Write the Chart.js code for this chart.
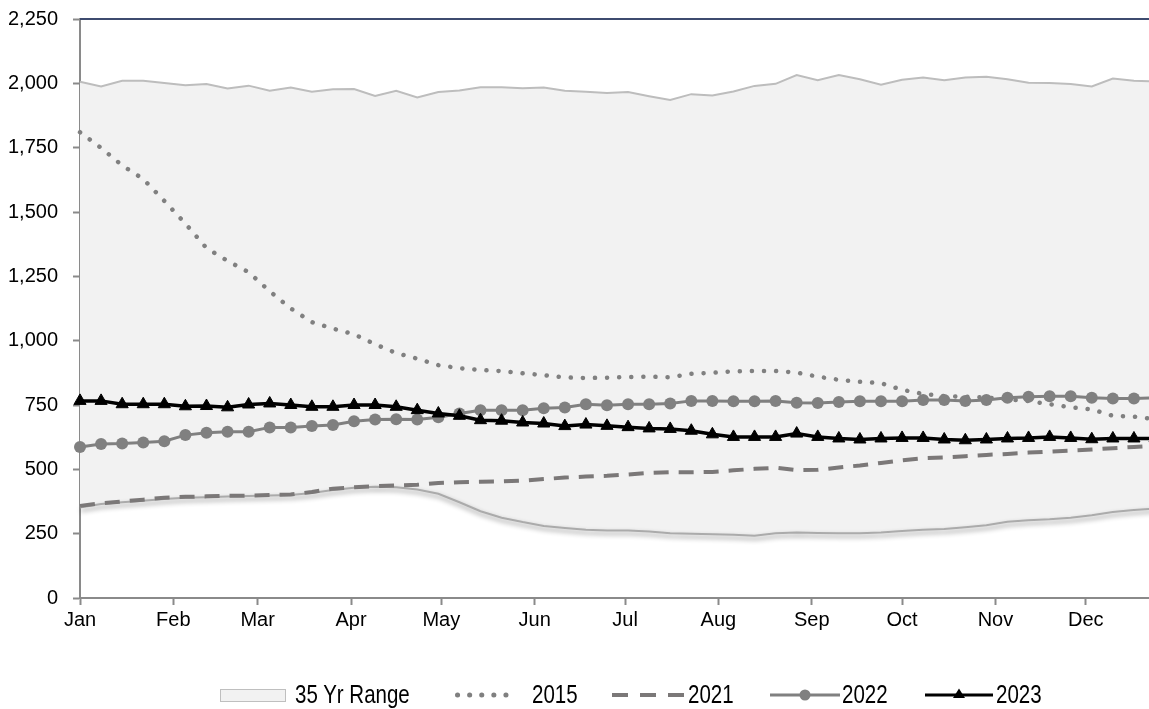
<!DOCTYPE html>
<html>
<head>
<meta charset="utf-8">
<title>Weekly levels vs 35 year range</title>
<script src="https://cdn.jsdelivr.net/npm/chart.js@4.4.0/dist/chart.umd.min.js"></script>
<style>
  html, body { margin: 0; padding: 0; background: #ffffff; }
  #wrap { position: relative; width: 1149px; height: 709px; overflow: hidden; }
  #chart { position: absolute; left: 0; top: 0; }
  .lg-text {
    position: absolute; top: 679px; height: 30px; line-height: 30px;
    font-family: 'Liberation Sans', Arial, sans-serif;
    font-size: 25px; color: #000; white-space: nowrap;
    transform: scaleX(0.82); transform-origin: left center;
  }
  .lg-swatch { position: absolute; top: 684px; }
  .lg-box { position: absolute; top: 689px; width: 64px; height: 11px; background: #F2F2F2; border: 1px solid #BFBFBF; }
</style>
</head>
<body>
<div id="wrap">
  <canvas id="chart" width="1149" height="709"></canvas>
  <div id="legend"></div>
</div>
<script>
// Month axis: labels and the day of year each month starts on
const monthLabels = ['Jan', 'Feb', 'Mar', 'Apr', 'May', 'Jun', 'Jul', 'Aug', 'Sep', 'Oct', 'Nov', 'Dec'];
const monthStartDays = [0, 31, 59, 90, 120, 151, 181, 212, 243, 273, 304, 334];

// Weekly observations, as day of year
const weekDays = [0, 7, 14, 21, 28, 35, 42, 49, 56, 63, 70, 77, 84, 91, 98, 105, 112, 119, 126,
  133, 140, 147, 154, 161, 168, 175, 182, 189, 196, 203, 210, 217, 224, 231, 238, 245, 252,
  259, 266, 273, 280, 287, 294, 301, 308, 315, 322, 329, 336, 343, 350, 357];

// Y axis ticks
const yTicks = [0, 250, 500, 750, 1000, 1250, 1500, 1750, 2000, 2250];

// Series names as shown in the legend
const seriesNames = ['35 Yr Range', '2015', '2021', '2022', '2023'];

// 35 year range: weekly maximum and minimum
const range35High = [2006, 1988, 2010, 2010, 2001, 1993, 1997, 1980, 1991, 1971,
  1984, 1967, 1977, 1978, 1951, 1971, 1945, 1966, 1972, 1985,
  1985, 1981, 1984, 1971, 1967, 1962, 1966, 1950, 1935, 1958,
  1953, 1968, 1990, 1998, 2032, 2012, 2032, 2016, 1995, 2014,
  2023, 2012, 2023, 2026, 2016, 2002, 2001, 1997, 1988, 2019,
  2010, 2008];
const range35Low = [352, 365, 372, 378, 385, 390, 392, 394, 396, 398,
  400, 408, 420, 428, 432, 430, 422, 405, 372, 337,
  312, 295, 280, 272, 265, 262, 262, 258, 252, 250,
  248, 246, 242, 252, 255, 253, 252, 252, 255, 260,
  265, 268, 275, 283, 296, 302, 306, 312, 322, 334,
  342, 348];

// Individual years
const y2015 = [1810, 1749, 1681, 1628, 1543, 1455, 1360, 1310, 1266, 1192,
  1125, 1072, 1047, 1025, 986, 952, 930, 905, 893, 886,
  882, 873, 866, 857, 855, 856, 859, 860, 858, 871,
  875, 881, 882, 882, 876, 860, 848, 840, 835, 809,
  793, 785, 782, 779, 772, 765, 753, 741, 733, 708,
  705, 695];
const y2021 = [358, 368, 375, 382, 390, 393, 395, 397, 398, 400,
  402, 412, 425, 430, 435, 437, 440, 447, 450, 452,
  453, 456, 462, 468, 472, 475, 480, 486, 489, 489,
  490, 496, 502, 506, 497, 498, 507, 515, 525, 535,
  543, 546, 551, 556, 560, 565, 569, 573, 577, 582,
  587, 592];
const y2022 = [587, 598, 600, 604, 609, 633, 642, 646, 646, 663,
  663, 668, 672, 687, 694, 695, 694, 702, 717, 730,
  730, 730, 737, 740, 753, 749, 753, 753, 756, 766,
  766, 765, 765, 766, 759, 758, 762, 765, 765, 765,
  769, 769, 766, 769, 778, 782, 784, 784, 778, 775,
  775, 778];
const y2023 = [766, 766, 753, 753, 753, 745, 746, 741, 752, 756,
  750, 743, 743, 750, 750, 743, 730, 717, 708, 691,
  689, 682, 678, 668, 674, 669, 664, 659, 657, 650,
  636, 626, 626, 626, 639, 626, 620, 616, 620, 622,
  622, 616, 613, 616, 620, 622, 626, 622, 617, 620,
  620, 620];

const toPoints = values => values.map((v, i) => ({ x: weekDays[i], y: v }));

const tickFont = { family: "'Liberation Sans', Arial, sans-serif", size: 20 };
const axisGray = '#8a8a8a';
const clipRightOnly = { left: false, top: false, right: 0, bottom: false };

// Soft drop shadow under the lower edge of the range band
const bandShadow = {
  id: 'bandShadow',
  beforeDatasetDraw(chart, args) {
    if (chart.data.datasets[args.index].shadow) {
      const c = chart.ctx;
      c.save();
      c.shadowColor = 'rgba(0,0,0,0.45)';
      c.shadowBlur = 5;
      c.shadowOffsetX = 1;
      c.shadowOffsetY = 3;
    }
  },
  afterDatasetDraw(chart, args) {
    if (chart.data.datasets[args.index].shadow) chart.ctx.restore();
  }
};

// Dark frame line along the top of the plot area
const topFrame = {
  id: 'topFrame',
  afterDraw(chart) {
    const { ctx, chartArea: a } = chart;
    ctx.save();
    ctx.strokeStyle = '#3d4b6f';
    ctx.lineWidth = 2;
    ctx.beginPath();
    ctx.moveTo(a.left, a.top);
    ctx.lineTo(a.right, a.top);
    ctx.stroke();
    ctx.restore();
  }
};

new Chart(document.getElementById('chart'), {
  type: 'line',
  data: {
    datasets: [
      {
        label: seriesNames[4], data: toPoints(y2023),
        borderColor: '#000000', backgroundColor: '#000000', borderWidth: 3.5,
        pointStyle: 'triangle', pointRadius: 7, pointBorderWidth: 1,
        pointBackgroundColor: '#000000', pointBorderColor: '#000000',
        fill: false, tension: 0, clip: clipRightOnly
      },
      {
        label: seriesNames[3], data: toPoints(y2022),
        borderColor: '#808080', backgroundColor: '#808080', borderWidth: 3,
        pointStyle: 'circle', pointRadius: 6, pointBorderWidth: 0,
        pointBackgroundColor: '#808080',
        fill: false, tension: 0, clip: clipRightOnly
      },
      {
        label: seriesNames[2], data: toPoints(y2021),
        borderColor: '#7b7878', borderWidth: 4, borderDash: [15, 10],
        pointRadius: 0, fill: false, tension: 0, clip: clipRightOnly
      },
      {
        label: seriesNames[1], data: toPoints(y2015),
        borderColor: '#808080', borderWidth: 4.5, borderDash: [0.1, 12],
        borderCapStyle: 'round', pointRadius: 0, fill: false, tension: 0, clip: clipRightOnly
      },
      {
        label: seriesNames[0], data: toPoints(range35High),
        borderColor: '#BDBDBD', borderWidth: 2, backgroundColor: '#F2F2F2',
        pointRadius: 0, fill: '+1', tension: 0, clip: clipRightOnly
      },
      {
        label: seriesNames[0] + ' low', data: toPoints(range35Low),
        borderColor: '#ABABAB', borderWidth: 2,
        pointRadius: 0, fill: false, tension: 0, clip: clipRightOnly, shadow: true
      }
    ]
  },
  options: {
    responsive: false,
    animation: false,
    events: [],
    layout: { autoPadding: false, padding: { top: 19, left: 0, right: 0, bottom: 0 } },
    plugins: {
      legend: { display: false },
      tooltip: { enabled: false },
      filler: { drawTime: 'beforeDatasetsDraw' }
    },
    scales: {
      x: {
        type: 'linear', min: 0, max: 355,
        afterBuildTicks: s => { s.ticks = monthStartDays.map(v => ({ value: v })); },
        afterFit: s => { s.height = 111; s.paddingLeft = 0; s.paddingRight = 0; },
        ticks: {
          autoSkip: false, maxRotation: 0, minRotation: 0, padding: 3,
          color: '#000', font: tickFont,
          callback: (v, i) => monthLabels[i]
        },
        grid: { drawOnChartArea: false, drawTicks: true, tickLength: 7, tickColor: axisGray, tickWidth: 2, color: axisGray },
        border: { display: true, color: axisGray, width: 2 }
      },
      y: {
        min: 0, max: 2250,
        afterBuildTicks: s => { s.ticks = yTicks.map(v => ({ value: v })); },
        afterFit: s => { s.width = 80; s.paddingTop = 0; s.paddingBottom = 0; },
        ticks: {
          padding: 15, color: '#000', font: tickFont,
          callback: v => v.toLocaleString('en-US')
        },
        grid: { drawOnChartArea: false, drawTicks: true, tickLength: 7, tickColor: axisGray, tickWidth: 2, color: axisGray },
        border: { display: true, color: axisGray, width: 2 }
      }
    }
  },
  plugins: [bandShadow, topFrame]
});

// Legend below the plot
const legend = document.getElementById('legend');
const svgNS = 'http://www.w3.org/2000/svg';
function addText(left, text) {
  const d = document.createElement('div');
  d.className = 'lg-text';
  d.style.left = left + 'px';
  d.textContent = text;
  legend.appendChild(d);
}
function addSvg(left, width, inner) {
  const d = document.createElement('div');
  d.className = 'lg-swatch';
  d.style.left = left + 'px';
  d.innerHTML = '<svg xmlns="' + svgNS + '" width="' + width + '" height="22" viewBox="0 0 ' + width + ' 22">' + inner + '</svg>';
  legend.appendChild(d);
}
const box = document.createElement('div');
box.className = 'lg-box';
box.style.left = '220px';
legend.appendChild(box);
addText(295, seriesNames[0]);

addSvg(452, 72, '<line x1="5.5" y1="11" x2="66" y2="11" stroke="#808080" stroke-width="5" stroke-linecap="round" stroke-dasharray="0.1 12"/>');
addText(532, seriesNames[1]);

addSvg(612, 72, '<line x1="0" y1="11" x2="72" y2="11" stroke="#7b7878" stroke-width="4" stroke-dasharray="16 12"/>');
addText(688, seriesNames[2]);

addSvg(770, 70, '<line x1="0" y1="11" x2="70" y2="11" stroke="#808080" stroke-width="3"/><circle cx="35" cy="11" r="5.5" fill="#808080"/>');
addText(842, seriesNames[3]);

addSvg(925, 68, '<line x1="0" y1="11" x2="68" y2="11" stroke="#000" stroke-width="3"/><polygon points="34,4.5 40,14 28,14" fill="#000"/>');
addText(996, seriesNames[4]);
</script>
</body>
</html>
